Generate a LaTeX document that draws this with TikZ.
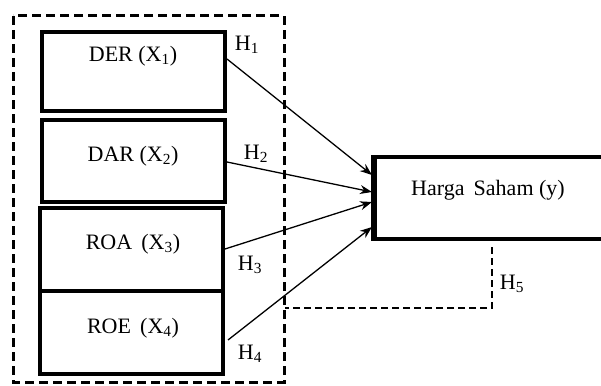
\documentclass[tikz,border=0pt]{standalone}
\usepackage{fontspec}
\setmainfont{Liberation Serif}
\usetikzlibrary{arrows.meta}
\begin{document}
\begin{tikzpicture}[x=1pt,y=-1pt,
  varbox/.style={draw,line width=3.2pt,rectangle,inner sep=0pt},
  lbl/.style={font=\fontsize{22}{26}\selectfont,inner sep=0pt},
  hlbl/.style={font=\fontsize{22}{26}\selectfont,inner sep=0pt},
  outerdash/.style={line width=3pt,dash pattern=on 9pt off 5pt},
  hdash/.style={line width=2.6pt,dash pattern=on 7pt off 4pt},
  conn/.style={line width=1.3pt,-{Stealth[length=12pt,width=9pt]}}]
\useasboundingbox (0,0) rectangle (601,385);
% outer dashed frame
\draw[outerdash] (13,16) rectangle (284,382);
% boxes
\node[varbox,minimum width=183pt,minimum height=79pt] (der) at (133.5,71.5) {};
\node[varbox,minimum width=183pt,minimum height=82pt] (dar) at (133.5,161) {};
\node[varbox,minimum width=183pt,minimum height=83pt] (roa) at (131.5,249.5) {};
\node[varbox,minimum width=183pt,minimum height=83pt] (roe) at (131.5,332.5) {};
\node[varbox,line width=3.6pt,minimum width=260pt,minimum height=82pt] (hs) at (505,198) {};
\draw[line width=5pt] (hs.north west) -- (hs.south west);
% texts
\node[lbl] (tder) at (133,56) {DER (X\textsubscript{1})};
\node[lbl] (tdar) at (133,156) {DAR (X\textsubscript{2})};
\node[lbl] (troa) at (133,244) {ROA\, (X\textsubscript{3})};
\node[lbl] (troe) at (133,328) {ROE\, (X\textsubscript{4})};
\node[lbl] (ths) at (488,190) {Harga\, Saham (y)};
% connector end points
\coordinate (s1) at (227,59);
\coordinate (s2) at (227,162);
\coordinate (s3) at (225,249);
\coordinate (s4) at (228,340);
\coordinate (e1) at (372,175);
\coordinate (e2) at (372,192);
\coordinate (e3) at (372,202);
\coordinate (e4) at (372,227);
\draw[conn] (s1) -- (e1);
\draw[conn] (s2) -- (e2);
\draw[conn] (s3) -- (e3);
\draw[conn] (s4) -- (e4);
% H labels
\node[hlbl] (h1) at (247,45) {H\textsubscript{1}};
\node[hlbl] (h2) at (256,154) {H\textsubscript{2}};
\node[hlbl] (h3) at (250,265) {H\textsubscript{3}};
\node[hlbl] (h4) at (250,354) {H\textsubscript{4}};
\node[hlbl] (h5) at (512,284) {H\textsubscript{5}};
% H5 dashed link
\coordinate (d1) at (492,247);
\coordinate (d2) at (492,308);
\coordinate (d3) at (285,308);
\draw[hdash] (d1) -- (d2) -- (d3);
\end{tikzpicture}
\end{document}
